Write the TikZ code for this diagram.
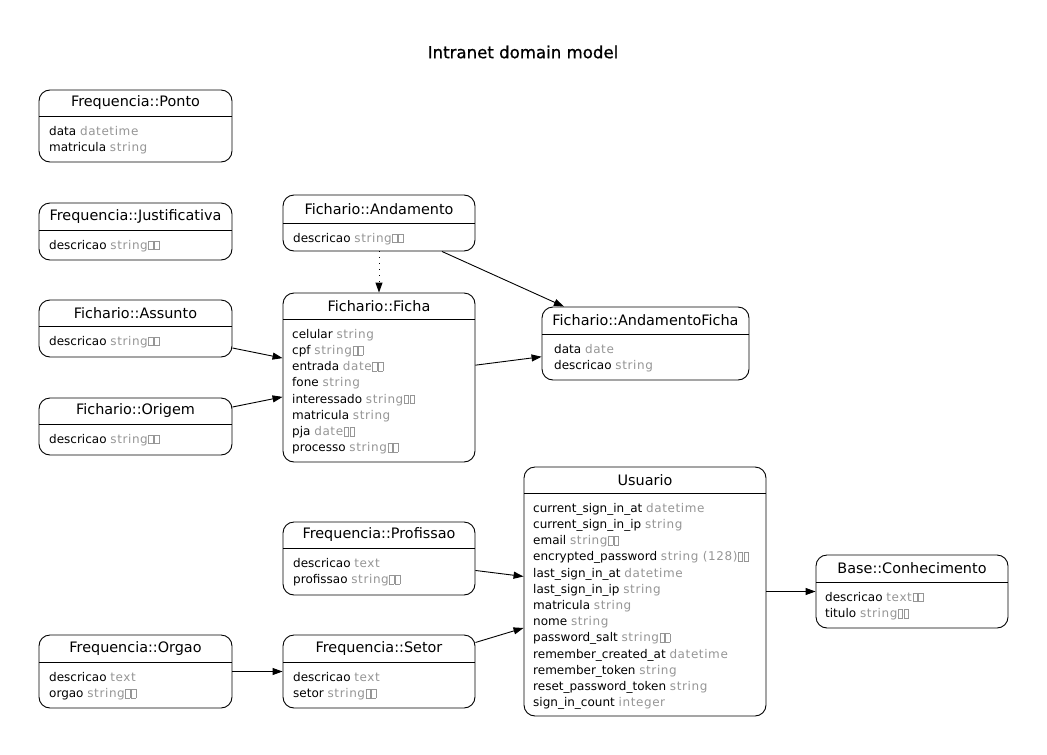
\documentclass[tikz,border=0pt]{standalone}
\usepackage{fontspec}
\setmainfont{DejaVu Sans}
\newfontfamily\typefont[LetterSpace=5]{DejaVu Sans}
\newfontfamily\titlefont[FakeBold=0.9]{DejaVu Sans}
\usetikzlibrary{arrows.meta}
\definecolor{tgray}{RGB}{150,150,150}
\newcommand{\gbx}{{\color{tgray}\fboxsep=0pt\fboxrule=0.6pt\fbox{\rule{0pt}{8pt}\hspace{3.8pt}}}}
\newcommand{\bxs}{\kern0.6pt\gbx\kern0.8pt\gbx}
\newcommand{\ty}[1]{{\typefont\color{tgray}#1}}
\newcommand{\umlclass}[9]{%
  \node[classbox, minimum width={#4-#2}, minimum height={#5-#3}] (#1) at ({(#2+#4)/2},{(#3+#5)/2}) {};
  \draw[divline] (#2,#6) -- (#4,#6);
  \node[classtitle] (#1-title) at ({(#2+#4)/2},{(#3+#6)/2}) {#7};
  \node[classattrs] (#1-attrs) at ({#2+#9},{#6+10}) {#8};
}
\tikzset{
  classbox/.style={draw, rounded corners=11pt, line width=0.9pt, fill=white, inner sep=0pt},
  divline/.style={line width=0.9pt},
  classtitle/.style={inner sep=0pt, font=\fontsize{14.4}{16}\selectfont},
  classattrs/.style={anchor=north west, align=left, inner sep=0pt, font=\fontsize{12}{16.2}\selectfont},
  rel/.style={draw, line width=0.9pt, -{Triangle[length=10pt,width=7pt]}},
}
\begin{document}
\begin{tikzpicture}[x=1pt,y=-1pt]
\fill[white] (0,0) rectangle (1047,755);
\useasboundingbox (0,0) rectangle (1047,755);
\node[font=\titlefont\fontsize{16.6}{18}\selectfont] (title) at (523,52) {Intranet domain model};

\umlclass{ponto}{39}{90}{232}{162}{116}{Frequencia::Ponto}{data \ty{datetime}\\matricula \ty{string}}{10}
\umlclass{justif}{39}{203}{232}{260}{230}{Frequencia::Justificativa}{descricao \ty{string}\bxs}{10}
\umlclass{andamento}{283}{195}{475}{251}{223}{Fichario::Andamento}{descricao \ty{string}\bxs}{10}
\umlclass{assunto}{39}{300}{232}{357}{326}{Fichario::Assunto}{descricao \ty{string}\bxs}{10}
\umlclass{origem}{39}{398}{232}{455}{424}{Fichario::Origem}{descricao \ty{string}\bxs}{10}
\umlclass{ficha}{283}{293}{475}{462}{319}{Fichario::Ficha}{celular \ty{string}\\cpf \ty{string}\bxs\\entrada \ty{date}\bxs\\fone \ty{string}\\interessado \ty{string}\bxs\\matricula \ty{string}\\pja \ty{date}\bxs\\processo \ty{string}\bxs}{9}
\umlclass{andficha}{542}{307}{749}{380}{334}{Fichario::AndamentoFicha}{data \ty{date}\\descricao \ty{string}}{12}
\umlclass{usuario}{524}{467}{766}{716}{493}{Usuario}{current\_sign\_in\_at \ty{datetime}\\current\_sign\_in\_ip \ty{string}\\email \ty{string}\bxs\\encrypted\_password \ty{string (128)}\bxs\\last\_sign\_in\_at \ty{datetime}\\last\_sign\_in\_ip \ty{string}\\matricula \ty{string}\\nome \ty{string}\\password\_salt \ty{string}\bxs\\remember\_created\_at \ty{datetime}\\remember\_token \ty{string}\\reset\_password\_token \ty{string}\\sign\_in\_count \ty{integer}}{9}
\umlclass{profissao}{283}{522}{475}{595}{548}{Frequencia::Profissao}{descricao \ty{text}\\profissao \ty{string}\bxs}{10}
\umlclass{orgao}{39}{635}{232}{708}{662}{Frequencia::Orgao}{descricao \ty{text}\\orgao \ty{string}\bxs}{10}
\umlclass{setor}{283}{635}{475}{708}{662}{Frequencia::Setor}{descricao \ty{text}\\setor \ty{string}\bxs}{10}
\umlclass{conhec}{816}{555}{1008}{628}{582}{Base::Conhecimento}{descricao \ty{text}\bxs\\titulo \ty{string}\bxs}{9}

\draw[rel, dash pattern=on 1pt off 5pt] (andamento) -- (ficha);
\draw[rel] (andamento) -- (andficha);
\draw[rel] (assunto) -- (ficha);
\draw[rel] (origem) -- (ficha);
\draw[rel] (ficha) -- (andficha);
\draw[rel] (profissao) -- (usuario);
\draw[rel] (setor) -- (usuario);
\draw[rel] (orgao) -- (setor);
\draw[rel] (usuario) -- (conhec);
\end{tikzpicture}
\end{document}
